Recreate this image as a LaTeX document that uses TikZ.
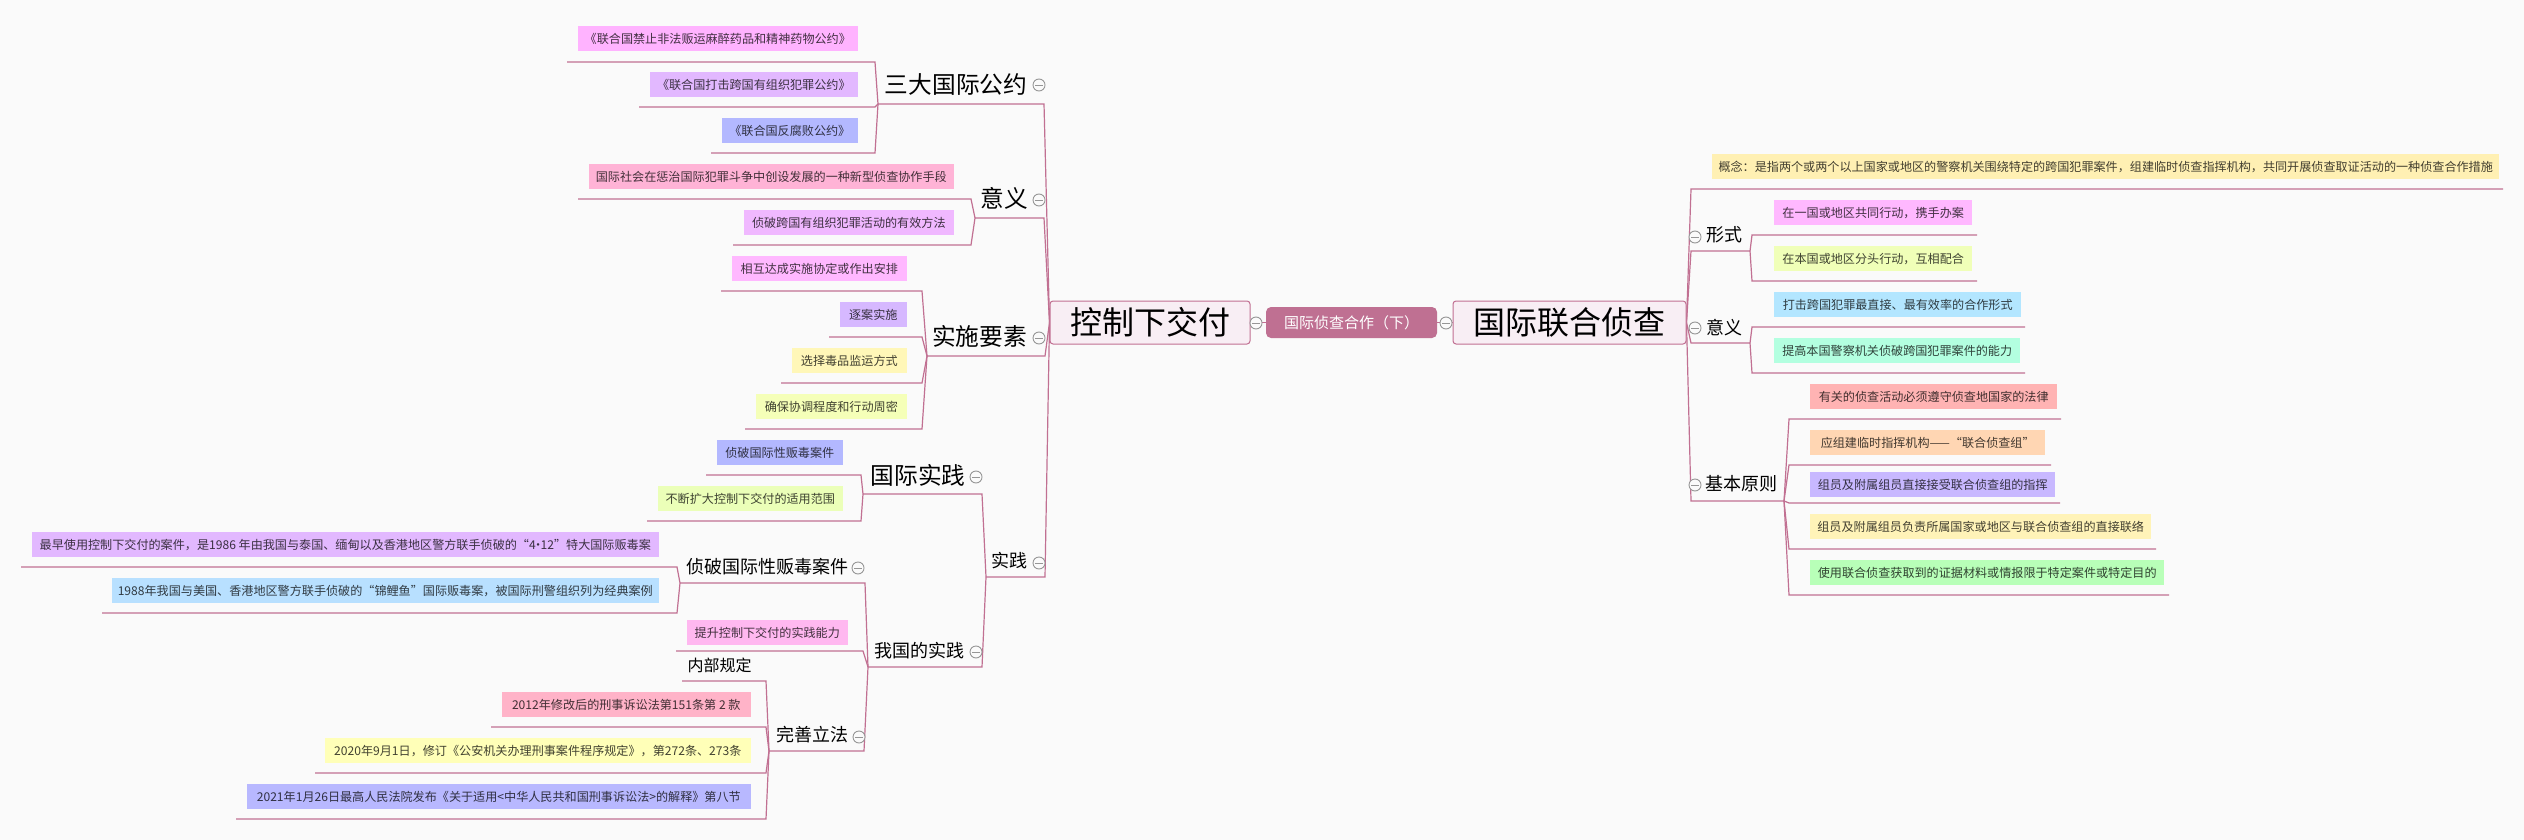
\documentclass[tikz,border=0pt]{standalone}
\usepackage{fontspec}
\setmainfont{Noto Sans CJK SC}
\usetikzlibrary{backgrounds}
\definecolor{bgcol}{RGB}{250,250,250}
\definecolor{linecol}{RGB}{193,112,146}
\definecolor{rootfill}{RGB}{248,238,244}
\definecolor{ctrfill}{RGB}{191,112,146}
\definecolor{togcol}{RGB}{150,150,150}
\definecolor{c1}{RGB}{255,179,255}
\definecolor{c2}{RGB}{226,184,255}
\definecolor{c3}{RGB}{179,184,255}
\definecolor{c4}{RGB}{255,179,214}
\definecolor{c5}{RGB}{240,184,255}
\definecolor{c6}{RGB}{255,184,255}
\definecolor{c7}{RGB}{214,184,255}
\definecolor{c8}{RGB}{255,247,184}
\definecolor{c9}{RGB}{245,255,184}
\definecolor{c10}{RGB}{179,184,255}
\definecolor{c11}{RGB}{235,255,184}
\definecolor{c12}{RGB}{226,184,255}
\definecolor{c13}{RGB}{184,224,255}
\definecolor{c14}{RGB}{255,184,240}
\definecolor{c15}{RGB}{255,179,200}
\definecolor{c16}{RGB}{255,255,184}
\definecolor{c17}{RGB}{184,184,255}
\definecolor{r0}{RGB}{255,240,179}
\definecolor{r1}{RGB}{255,184,255}
\definecolor{r2}{RGB}{240,255,184}
\definecolor{r3}{RGB}{179,230,255}
\definecolor{r4}{RGB}{179,255,224}
\definecolor{r5}{RGB}{255,179,179}
\definecolor{r6}{RGB}{255,214,179}
\definecolor{r7}{RGB}{200,184,255}
\definecolor{r8}{RGB}{255,243,184}
\definecolor{r9}{RGB}{184,255,184}
\tikzset{
  link/.style={draw=linecol, line width=1.2pt},
  leaf/.style={inner sep=0pt, minimum height=25pt, font=\fontsize{12.1}{14}\selectfont},
  lblA/.style={inner sep=0pt, font=\fontsize{23.7}{28}\selectfont},
  lblB/.style={inner sep=0pt, font=\fontsize{18}{22}\selectfont},
  lblC/.style={inner sep=0pt, font=\fontsize{16}{20}\selectfont},
  rootbox/.style={draw=linecol, fill=rootfill, line width=1pt, rounded corners=3pt, inner sep=0pt, minimum height=43pt, font=\fontsize{32}{38}\selectfont},
  ctrbox/.style={fill=ctrfill, text=white, rounded corners=5pt, inner sep=0pt, minimum width=171pt, minimum height=31pt, font=\fontsize{15}{18}\selectfont},
  tog/.style={circle, draw=togcol, fill=bgcol, line width=0.9pt, minimum size=12pt, inner sep=0pt,
    path picture={\draw[togcol, line width=0.9pt] ([xshift=-3.6pt]path picture bounding box.center) -- ([xshift=3.6pt]path picture bounding box.center);}}
}
\newcommand\leafE[6]{\node[leaf, fill=#2, text=#2!26!black, minimum width=#5pt, anchor=north east] (#1) at (#3,#4) {#6};}
\newcommand\leafW[6]{\node[leaf, fill=#2, text=#2!26!black, minimum width=#5pt, anchor=north west] (#1) at (#3,#4) {#6};}
\newcommand\ulc[4]{\coordinate (#1-l) at (#2,#4); \coordinate (#1-r) at (#3,#4);}
\newcommand\brL[2]{\draw[link] (#1) -- (#2-r) -- (#2-l);}
\newcommand\brR[2]{\draw[link] (#1) -- (#2-l) -- (#2-r);}
\begin{document}
\begin{tikzpicture}[x=1pt, y=-1pt]
\useasboundingbox (0,0) rectangle (2524,840);

% roots
\node[rootbox, minimum width=200pt] (rootL) at (1150,322.5) {控制下交付};
\node[rootbox, minimum width=233pt] (rootR) at (1569.5,322.5) {国际联合侦查};
\node[ctrbox] (ctr) at (1351.5,322.5) {国际侦查合作（下）};

% left labels
\node[lblA] (L1) at (956,84) {三大国际公约};
\node[lblA] (L2) at (1004,198) {意义};
\node[lblA] (L3) at (979.5,336.5) {实施要素};
\node[lblB] (L4) at (1009.5,561) {实践};
\node[lblA] (L41) at (918,475) {国际实践};
\node[lblB] (L42) at (919.5,650.5) {我国的实践};
\node[lblB] (L421) at (767.5,566.5) {侦破国际性贩毒案件};
\node[lblB] (L423) at (812,734.5) {完善立法};
\node[lblC] (f1) at (719.5,665) {内部规定};

% right labels
\node[lblB] (R1) at (1724.5,235) {形式};
\node[lblB] (R2) at (1724.5,327.5) {意义};
\node[lblB] (R3) at (1741.5,484) {基本原则};

% left leaves
\leafE{a1}{c1}{858}{26}{280}{《联合国禁止非法贩运麻醉药品和精神药物公约》}
\leafE{a2}{c2}{858}{72}{208}{《联合国打击跨国有组织犯罪公约》}
\leafE{a3}{c3}{858}{118}{136}{《联合国反腐败公约》}
\leafE{b1}{c4}{954}{164}{365}{国际社会在惩治国际犯罪斗争中创设发展的一种新型侦查协作手段}
\leafE{b2}{c5}{954}{210}{210}{侦破跨国有组织犯罪活动的有效方法}
\leafE{s1}{c6}{907}{256}{175}{相互达成实施协定或作出安排}
\leafE{s2}{c7}{907}{302}{67}{逐案实施}
\leafE{s3}{c8}{907}{348}{115}{选择毒品监运方式}
\leafE{s4}{c9}{907}{394}{151}{确保协调程度和行动周密}
\leafE{g1}{c10}{843}{440}{126}{侦破国际性贩毒案件}
\leafE{g2}{c11}{843}{486}{185}{不断扩大控制下交付的适用范围}
\leafE{z1}{c12}{659}{532}{627}{最早使用控制下交付的案件，是1986 年由我国与泰国、缅甸以及香港地区警方联手侦破的“4\kern-0.3em·\kern-0.3em12”特大国际贩毒案}
\leafE{z2}{c13}{659}{578}{547}{1988年我国与美国、香港地区警方联手侦破的“锦鲤鱼”国际贩毒案，被国际刑警组织列为经典案例}
\leafE{w2}{c14}{848}{620}{161}{提升控制下交付的实践能力}
\leafE{f2}{c15}{751}{692}{249}{2012年修改后的刑事诉讼法第151条第 2 款}
\leafE{f3}{c16}{751}{738}{426}{2020年9月1日，修订《公安机关办理刑事案件程序规定》，第272条、273条}
\leafE{f4}{c17}{751}{784}{504}{2021年1月26日最高人民法院发布《关于适用<中华人民共和国刑事诉讼法>的解释》第八节}

% right leaves
\leafW{k0}{r0}{1712}{154}{787}{概念：是指两个或两个以上国家或地区的警察机关围绕特定的跨国犯罪案件，组建临时侦查指挥机构，共同开展侦查取证活动的一种侦查合作措施}
\leafW{x1}{r1}{1774}{200}{198}{在一国或地区共同行动，携手办案}
\leafW{x2}{r2}{1774}{246}{198}{在本国或地区分头行动，互相配合}
\leafW{y1}{r3}{1774}{292}{247}{打击跨国犯罪最直接、最有效率的合作形式}
\leafW{y2}{r4}{1774}{338}{246}{提高本国警察机关侦破跨国犯罪案件的能力}
\leafW{p1}{r5}{1810}{384}{247}{有关的侦查活动必须遵守侦查地国家的法律}
\leafW{p2}{r6}{1810}{430}{235}{应组建临时指挥机构——“联合侦查组”}
\leafW{p3}{r7}{1810}{472}{245}{组员及附属组员直接接受联合侦查组的指挥}
\leafW{p4}{r8}{1810}{514}{341}{组员及附属组员负责所属国家或地区与联合侦查组的直接联络}
\leafW{p5}{r9}{1810}{560}{354}{使用联合侦查获取到的证据材料或情报限于特定案件或特定目的}

% underline coordinates
\ulc{a1}{567}{875}{62} \ulc{a2}{639}{875}{107} \ulc{a3}{711}{875}{153}
\ulc{b1}{578}{971}{199} \ulc{b2}{733}{971}{245}
\ulc{s1}{721}{922}{291} \ulc{s2}{829}{922}{337} \ulc{s3}{781}{922}{383} \ulc{s4}{745}{922}{429}
\ulc{g1}{706}{861}{475} \ulc{g2}{647}{861}{521}
\ulc{z1}{21}{677}{567} \ulc{z2}{102}{677}{613}
\ulc{w2}{676}{863}{651}
\ulc{f1}{682}{766}{681} \ulc{f2}{491}{766}{727} \ulc{f3}{315}{766}{773} \ulc{f4}{236}{766}{819}
\ulc{L1}{878}{1044}{104} \ulc{L2}{975}{1044}{218} \ulc{L3}{927}{1045}{356} \ulc{L4}{986}{1045}{577}
\ulc{L41}{863}{982}{494} \ulc{L42}{868}{982}{667}
\ulc{L421}{680}{865}{583} \ulc{L423}{769}{864}{751}
\ulc{k0}{1691}{2503}{189}
\ulc{R1}{1691}{1750}{251} \ulc{R2}{1691}{1750}{343} \ulc{R3}{1691}{1784}{501}
\ulc{x1}{1752}{1977}{235} \ulc{x2}{1752}{1977}{281}
\ulc{y1}{1752}{2025}{327} \ulc{y2}{1752}{2025}{373}
\ulc{p1}{1789}{2061}{419} \ulc{p2}{1789}{2051}{465} \ulc{p3}{1789}{2060}{503} \ulc{p4}{1789}{2156}{549} \ulc{p5}{1789}{2169}{595}

% toggles
\node[tog] (t1) at (1039,85) {};
\node[tog] (t2) at (1039,200) {};
\node[tog] (t3) at (1039,338) {};
\node[tog] (t4) at (1039,563) {};
\node[tog] (t5) at (976,477) {};
\node[tog] (t6) at (976,652) {};
\node[tog] (t7) at (858,568) {};
\node[tog] (t8) at (859,737) {};
\node[tog] (t9) at (1256,323) {};
\node[tog] (t10) at (1446,323) {};
\node[tog] (t11) at (1695,237) {};
\node[tog] (t12) at (1695,328) {};
\node[tog] (t13) at (1695,485) {};

\begin{scope}[on background layer]
\fill[bgcol] (0,0) rectangle (2524,840);
\draw[link] (ctr.west) -- (rootL.east);
\draw[link] (ctr.east) -- (rootR.west);
% left tree
\brL{rootL.west}{L1} \brL{rootL.west}{L2} \brL{rootL.west}{L3} \brL{rootL.west}{L4}
\brL{L1-l}{a1} \brL{L1-l}{a2} \brL{L1-l}{a3}
\brL{L2-l}{b1} \brL{L2-l}{b2}
\brL{L3-l}{s1} \brL{L3-l}{s2} \brL{L3-l}{s3} \brL{L3-l}{s4}
\brL{L4-l}{L41} \brL{L4-l}{L42}
\brL{L41-l}{g1} \brL{L41-l}{g2}
\brL{L42-l}{L421} \brL{L42-l}{w2} \brL{L42-l}{L423}
\brL{L421-l}{z1} \brL{L421-l}{z2}
\brL{L423-l}{f1} \brL{L423-l}{f2} \brL{L423-l}{f3} \brL{L423-l}{f4}
% right tree
\brR{rootR.east}{k0} \brR{rootR.east}{R1} \brR{rootR.east}{R2} \brR{rootR.east}{R3}
\brR{R1-r}{x1} \brR{R1-r}{x2}
\brR{R2-r}{y1} \brR{R2-r}{y2}
\brR{R3-r}{p1} \brR{R3-r}{p2} \brR{R3-r}{p3} \brR{R3-r}{p4} \brR{R3-r}{p5}
\end{scope}
\end{tikzpicture}
\end{document}
